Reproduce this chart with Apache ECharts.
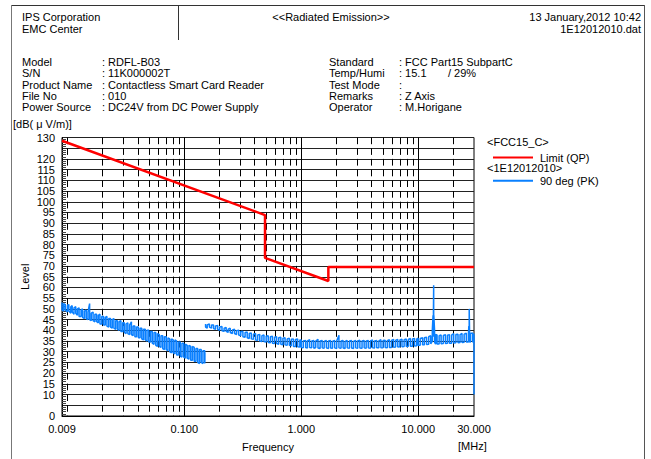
<!DOCTYPE html>
<html><head><meta charset="utf-8">
<script src="https://cdn.jsdelivr.net/npm/echarts@6/dist/echarts.min.js"></script>
<style>html,body{margin:0;padding:0;background:#fff}#c{width:651px;height:459px}</style>
</head><body><div id="c"></div>
<script>
// ---- data ----
const limitFreq = [0.009, 0.49, 0.49, 1.705, 1.705, 30];
const limitLevel = [128.5, 93.8, 73.8, 63.0, 69.5, 69.5];

// sweep 1 (9 kHz - 150 kHz): per-bin peak (hi) and floor (lo) of the trace
const scanFreqA = [0.0090,0.0093,0.0096,0.0100,0.0103,0.0107,0.0110,0.0114,0.0118,0.0122,
0.0126,0.0131,0.0135,0.0140,0.0145,0.0150,0.0155,0.0160,0.0166,0.0172,
0.0178,0.0184,0.0190,0.0197,0.0204,0.0211,0.0218,0.0226,0.0234,0.0242,
0.0250,0.0259,0.0268,0.0277,0.0287,0.0297,0.0307,0.0318,0.0329,0.0341,
0.0353,0.0365,0.0378,0.0391,0.0405,0.0419,0.0433,0.0448,0.0464,0.0480,
0.0497,0.0514,0.0532,0.0551,0.0570,0.0590,0.0611,0.0632,0.0654,0.0677,
0.0701,0.0725,0.0751,0.0777,0.0804,0.0832,0.0861,0.0892,0.0923,0.0955,
0.0989,0.1023,0.1059,0.1096,0.1135,0.1174,0.1216,0.1258,0.1302,0.1348,
0.1395,0.1444,0.1495,0.1500];
const scanHiA = [53,52.5,52,51.5,52,51,51.5,50.5,51,50,
50.5,49.5,50,49,49.5,48.5,52.5,48,48.5,47.5,
47.5,47,47.5,46.5,46.5,46,46.5,45.5,45.5,45,
45.5,44.5,44.5,44,44.5,43.5,43.5,43,43.5,42.5,
44,42,42,41.5,41.5,41,41,40.5,40.5,40,
40,39.5,39.5,39,39,38.5,38,37.5,37.5,37,
37,36.5,36,36,35.5,35.5,35,34.5,34.5,34,
34,33.5,33,33,32.5,32.5,32,31.5,31.5,31,
31,30.5,30.5,29.5];
const scanLoA = [49.5,49,49.5,48.5,49,48,48.5,47.5,48,47,
46.5,46.5,46,45.5,45.5,45,45,44.5,44.5,44,
44,43.5,43,43,42.5,42.5,42,41.5,41.5,41,
41,40.5,40.5,40,39.5,39.5,39,38.5,38.5,38,
38,37.5,37,37,36.5,36.5,36,35.5,35.5,35,
34.5,34.5,34,33.5,33,32.5,32.5,32,31.5,31,
31,30.5,30,29.5,29.5,29,28.5,28.5,28,27.5,
27.5,27,27,26.5,26,26,25.5,25.5,25,24.5,
25,24.5,24.5,26];

// sweep 2 (150 kHz - 30 MHz)
const scanFreqB = [0.152,0.157,0.164,0.171,0.178,0.185,0.193,0.201,0.210,0.219,
0.228,0.237,0.247,0.258,0.269,0.280,0.292,0.304,0.317,0.331,
0.345,0.359,0.374,0.390,0.407,0.424,0.442,0.461,0.480,0.501,
0.522,0.544,0.567,0.591,0.616,0.642,0.669,0.697,0.727,0.758,
0.790,0.823,0.858,0.894,0.932,0.972,
1.00,1.04,1.09,1.13,1.18,1.23,1.28,1.33,1.39,1.45,
1.51,1.57,1.64,1.71,1.78,1.85,1.93,2.01,2.10,2.19,
2.28,2.37,2.47,2.58,2.69,2.80,2.92,3.04,3.17,3.31,
3.45,3.59,3.74,3.90,4.07,4.24,4.42,4.61,4.80,5.01,
5.22,5.44,5.67,5.91,6.16,6.42,6.69,6.97,7.27,7.58,
7.90,8.23,8.58,8.94,9.32,9.72,
10.0,10.4,10.9,11.3,11.8,12.3,12.8,13.2,13.4,13.5,
13.56,13.6,13.8,14.1,14.5,15.1,15.7,16.4,17.1,17.8,
18.5,19.3,20.1,21.0,21.9,22.8,23.7,24.7,25.8,26.9,
27.1,27.3,27.5,28.0,29.2,29.9,30.0];
const scanHiB = [43,42.5,43,42.5,42.5,42,42.2,41.5,41.8,41,
41.3,40.5,41,40.2,40.5,39.8,40,39.5,39.5,39,
39.2,38.5,38.8,38.2,38.5,37.8,38,37.5,37.8,37.2,
37.5,37,37.2,36.8,37,36.5,36.8,36.3,36.5,36,
36.3,35.8,36,35.7,36,35.5,
35.5,35,35.3,35,35.6,35,35.2,35,35.8,35,
35.2,34.8,35.3,35,35.2,34.8,35.3,35,37.7,35,
35.2,34.8,35.3,35,35.2,34.8,35.3,35,35.4,35,
35.3,35,35.2,35,35.5,35,35.3,35.1,35.6,35.2,
35.4,35.2,35.6,35.3,35.8,35.4,35.7,35.5,35.8,35.6,
35.9,35.7,36.2,35.9,36.2,36,
36.3,36.2,36.5,36.5,36.8,37,37.5,40,47,49,
61,47,40,38,37.8,37.5,37.8,37.6,38,37.7,
38,37.8,38.5,38,38.2,38,38.5,38.2,38.6,38.5,
42,50,39,38.5,38.8,38.5,37];
const scanLoB = [41.5,41,41.5,41,40.8,40.5,40.5,40,39.8,39.5,
39.5,39,39,38.5,38.5,38,37.8,37.5,37,36.8,
36.5,36.2,36,35.8,35.5,35.3,35,34.8,34.8,34.5,
34.3,34.2,34,33.8,33.8,33.5,33.5,33.3,33.2,33,
33,32.8,32.5,32.5,32.3,32.2,
32,31.8,32,31.7,32,31.8,31.6,32,31.7,31.5,
31.8,31.6,31.8,31.5,31.7,31.6,31.8,31.5,31.8,31.6,
31.7,31.5,31.8,31.6,31.7,31.5,31.8,31.6,31.7,31.6,
31.8,31.6,31.8,31.6,31.8,31.7,31.8,31.8,31.9,31.8,
32,31.9,32,32,32.1,32.2,32.2,32.3,32.3,32.4,
32.4,32.5,32.6,32.6,32.7,32.8,
33,33,33.2,33.3,33.4,33.5,33.7,35,37,38,
40,37,34.5,33.5,33.6,33.6,33.7,33.8,33.8,33.9,
34,34,34.1,34.2,34.2,34.3,34.3,34.4,34.5,34.5,
35,36,34.5,34.5,34.6,34.5,10];

const yLabelValues = [0,10,15,20,25,30,35,40,45,50,55,60,65,70,75,80,85,90,95,100,105,110,115,120,130];
const xLabelValues = [0.009, 0.1, 1, 10, 30];
const xMajorLines = [0.1, 1, 10];
const xMinorLines = [0.01,0.02,0.03,0.04,0.05,0.06,0.07,0.08,0.09,
  0.2,0.3,0.4,0.5,0.6,0.7,0.8,0.9,2,3,4,5,6,7,8,9,20];

const infoLeftLabels = ['Model','S/N','Product Name','File No','Power Source'];
const infoLeftValues = [': RDFL-B03',': 11K000002T',': Contactless Smart Card Reader',': 010',': DC24V from DC Power Supply'];
const infoRightLabels = ['Standard','Temp/Humi','Test Mode','Remarks','Operator'];
const infoRightValues = [': FCC Part15 SubpartC',': 15.1\u00a0\u00a0\u00a0\u00a0\u00a0\u00a0\u00a0/ 29%',':',': Z Axis',': M.Horigane'];

// ---- chart ----
const FONT = 'Liberation Sans, Arial, Helvetica, sans-serif';
const zip = (a, b) => a.map((v, i) => [v, b[i]]);
// each frequency bin drawn as a vertical stroke from its floor to its peak (serpentine order)
const band = (f, hi, lo) => {
  const out = [];
  f.forEach((v, i) => {
    if (i % 2 === 0) { out.push([v, hi[i]], [v, lo[i]]); }
    else { out.push([v, lo[i]], [v, hi[i]]); }
  });
  return out;
};

function txt(x, y, s, align) {
  return { type: 'text', x: x, y: y, silent: true,
    style: { text: s, fill: '#000', font: '11px ' + FONT, align: align || 'left', verticalAlign: 'middle' } };
}
function ln(x1, y1, x2, y2, c, w) {
  return { type: 'line', silent: true, shape: { x1, y1, x2, y2 }, style: { stroke: c, lineWidth: w || 1 } };
}

const graphics = [
  ln(11, 5.5, 644, 5.5, '#333'),
  ln(11.5, 5, 11.5, 459, '#777'),
  ln(644.5, 5, 644.5, 459, '#555'),
  ln(178.5, 5, 178.5, 40, '#333'),
  txt(22, 17, 'IPS Corporation'),
  txt(22, 28.5, 'EMC Center'),
  txt(331, 17, '<<Radiated Emission>>', 'center'),
  txt(641, 17, '13 January,2012 10:42', 'right'),
  txt(641, 28.5, '1E12012010.dat', 'right'),
  txt(13, 124, '[dB( \u03bc V/m)]'),
  txt(458, 446, '[MHz]'),
  txt(487, 142, '<FCC15_C>'),
  txt(487, 168, '<1E12012010>')
];
infoLeftLabels.forEach((s, i) => {
  const y = 62 + i * 11.3;
  graphics.push(txt(22, y, s), txt(102, y, infoLeftValues[i]));
  graphics.push(txt(329, y, infoRightLabels[i]), txt(399, y, infoRightValues[i]));
});

const chart = echarts.init(document.getElementById('c'), null, { renderer: 'svg' });
chart.setOption({
  animation: false,
  backgroundColor: '#fff',
  textStyle: { fontFamily: FONT },
  grid: { left: 62, top: 137.5, width: 412, height: 278.5, show: true, borderColor: '#000', borderWidth: 1 },
  legend: {
    orient: 'vertical', left: 487, top: 147, itemWidth: 40, itemHeight: 14, itemGap: 12,
    data: ['Limit (QP)', '90 deg (PK)'],
    itemStyle: { opacity: 0 },
    textStyle: { fontSize: 11, fontFamily: FONT, color: '#000', padding: [0, 0, 0, 2] }
  },
  xAxis: [{
    type: 'log', logBase: 10, min: 0.009, max: 30, gridIndex: 0,
    name: 'Frequency', nameLocation: 'middle', nameGap: 25,
    nameTextStyle: { fontSize: 11, color: '#000', fontFamily: FONT },
    axisLine: { show: true, lineStyle: { color: '#000', width: 1 } },
    axisTick: { show: false, customValues: xMajorLines },
    axisLabel: { customValues: xLabelValues, fontSize: 11, color: '#000', margin: 7, fontFamily: FONT,
      formatter: v => Number(v).toFixed(3) },
    splitLine: { show: true, lineStyle: { color: '#000', width: 1 } }
  }, {
    type: 'log', logBase: 10, min: 0.009, max: 30, gridIndex: 0, position: 'bottom',
    axisLine: { show: false }, axisLabel: { show: false },
    axisTick: { show: false, customValues: xMinorLines },
    splitLine: { show: true, lineStyle: { color: '#000', width: 1, type: [6.7, 4.0] } }
  }],
  yAxis: {
    type: 'value', min: 0, max: 130, interval: 5,
    name: 'Level', nameLocation: 'middle', nameGap: 32, nameRotate: 90, nameMoveOverlap: false,
    nameTextStyle: { fontSize: 11, color: '#000', fontFamily: FONT },
    axisLine: { show: true, lineStyle: { color: '#000', width: 1 } },
    axisTick: { show: false, inside: true },
    minorTick: { show: true, splitNumber: 5, length: 4, lineStyle: { color: '#444', width: 1 } },
    axisLabel: { fontSize: 11, color: '#000', margin: 7, fontFamily: FONT,
      formatter: v => yLabelValues.includes(v) ? String(v) : '' },
    splitLine: { show: true, lineStyle: { color: '#222', width: 1 } }
  },
  series: [
    { name: 'Limit (QP)', type: 'line', xAxisIndex: 0, symbol: 'none', z: 3,
      lineStyle: { color: '#ff0000', width: 2.5 }, itemStyle: { color: '#ff0000' },
      data: zip(limitFreq, limitLevel) },
    { name: '90 deg (PK)', type: 'line', xAxisIndex: 0, symbol: 'none', z: 4,
      lineStyle: { color: '#0a80ff', width: 1.5 }, itemStyle: { color: '#0a80ff' },
      data: band(scanFreqA, scanHiA, scanLoA) },
    { name: '90 deg (PK)', type: 'line', xAxisIndex: 0, symbol: 'none', z: 4,
      lineStyle: { color: '#0a80ff', width: 1.5 }, itemStyle: { color: '#0a80ff' },
      data: band(scanFreqB, scanHiB, scanLoB) }
  ],
  graphic: graphics
});
</script></body></html>
